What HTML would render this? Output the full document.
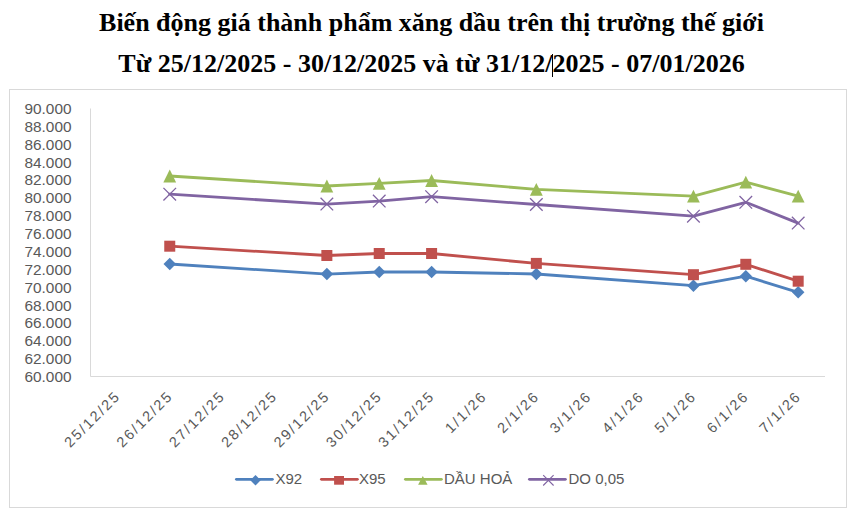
<!DOCTYPE html>
<html><head><meta charset="utf-8"><style>
html,body{margin:0;padding:0;background:#fff;width:854px;height:509px;overflow:hidden}
.t{position:absolute;left:0;width:863px;text-align:center;font-family:"Liberation Serif",serif;font-weight:bold;font-size:26px;color:#000;white-space:nowrap;line-height:30px}
svg{position:absolute;left:0;top:0}
.yl{font-family:"Liberation Sans",sans-serif;font-size:15.4px;fill:#595959}
.xl{font-family:"Liberation Sans",sans-serif;font-size:14.5px;fill:#595959;letter-spacing:2px}
.lg{font-family:"Liberation Sans",sans-serif;font-size:15px;fill:#595959}
.cur{position:absolute;left:552px;top:54px;width:1px;height:23px;background:#000}
</style></head><body>
<svg width="854" height="509" viewBox="0 0 854 509">
<rect x="9.5" y="89.5" width="837" height="418" fill="#fff" stroke="#d9d9d9" stroke-width="1"/>
<line x1="90.5" y1="108.5" x2="90.5" y2="376.5" stroke="#d9d9d9" stroke-width="1"/>
<line x1="90.5" y1="376.5" x2="825.0" y2="376.5" stroke="#d9d9d9" stroke-width="1"/>
<text x="71.5" y="382.00" text-anchor="end" class="yl">60.000</text>
<text x="71.5" y="364.13" text-anchor="end" class="yl">62.000</text>
<text x="71.5" y="346.27" text-anchor="end" class="yl">64.000</text>
<text x="71.5" y="328.40" text-anchor="end" class="yl">66.000</text>
<text x="71.5" y="310.53" text-anchor="end" class="yl">68.000</text>
<text x="71.5" y="292.67" text-anchor="end" class="yl">70.000</text>
<text x="71.5" y="274.80" text-anchor="end" class="yl">72.000</text>
<text x="71.5" y="256.93" text-anchor="end" class="yl">74.000</text>
<text x="71.5" y="239.07" text-anchor="end" class="yl">76.000</text>
<text x="71.5" y="221.20" text-anchor="end" class="yl">78.000</text>
<text x="71.5" y="203.33" text-anchor="end" class="yl">80.000</text>
<text x="71.5" y="185.47" text-anchor="end" class="yl">82.000</text>
<text x="71.5" y="167.60" text-anchor="end" class="yl">84.000</text>
<text x="71.5" y="149.73" text-anchor="end" class="yl">86.000</text>
<text x="71.5" y="131.87" text-anchor="end" class="yl">88.000</text>
<text x="71.5" y="114.00" text-anchor="end" class="yl">90.000</text>
<text transform="translate(121.38,397) rotate(-45)" text-anchor="end" class="xl">25/12/25</text>
<text transform="translate(173.75,397) rotate(-45)" text-anchor="end" class="xl">26/12/25</text>
<text transform="translate(226.12,397) rotate(-45)" text-anchor="end" class="xl">27/12/25</text>
<text transform="translate(278.49,397) rotate(-45)" text-anchor="end" class="xl">28/12/25</text>
<text transform="translate(330.86,397) rotate(-45)" text-anchor="end" class="xl">29/12/25</text>
<text transform="translate(383.23,397) rotate(-45)" text-anchor="end" class="xl">30/12/25</text>
<text transform="translate(435.60,397) rotate(-45)" text-anchor="end" class="xl">31/12/25</text>
<text transform="translate(487.97,397) rotate(-45)" text-anchor="end" class="xl">1/1/26</text>
<text transform="translate(540.34,397) rotate(-45)" text-anchor="end" class="xl">2/1/26</text>
<text transform="translate(592.71,397) rotate(-45)" text-anchor="end" class="xl">3/1/26</text>
<text transform="translate(645.07,397) rotate(-45)" text-anchor="end" class="xl">4/1/26</text>
<text transform="translate(697.44,397) rotate(-45)" text-anchor="end" class="xl">5/1/26</text>
<text transform="translate(749.81,397) rotate(-45)" text-anchor="end" class="xl">6/1/26</text>
<text transform="translate(802.18,397) rotate(-45)" text-anchor="end" class="xl">7/1/26</text>
<polyline points="169.75,264 326.86,274.1 379.23,272 431.60,272 536.34,274 693.44,285.7 745.81,276.2 798.18,292.3" fill="none" stroke="#4F81BD" stroke-width="2.8" stroke-linejoin="round" stroke-linecap="round"/>
<path d="M169.75 257.75L176.00 264.00L169.75 270.25L163.50 264.00Z" fill="#4F81BD"/>
<path d="M326.86 267.85L333.11 274.10L326.86 280.35L320.61 274.10Z" fill="#4F81BD"/>
<path d="M379.23 265.75L385.48 272.00L379.23 278.25L372.98 272.00Z" fill="#4F81BD"/>
<path d="M431.60 265.75L437.85 272.00L431.60 278.25L425.35 272.00Z" fill="#4F81BD"/>
<path d="M536.34 267.75L542.59 274.00L536.34 280.25L530.09 274.00Z" fill="#4F81BD"/>
<path d="M693.44 279.45L699.69 285.70L693.44 291.95L687.19 285.70Z" fill="#4F81BD"/>
<path d="M745.81 269.95L752.06 276.20L745.81 282.45L739.56 276.20Z" fill="#4F81BD"/>
<path d="M798.18 286.05L804.43 292.30L798.18 298.55L791.93 292.30Z" fill="#4F81BD"/>
<polyline points="169.75,246.2 326.86,255.5 379.23,253.5 431.60,253.5 536.34,263.4 693.44,274.7 745.81,264.3 798.18,281.2" fill="none" stroke="#C0504D" stroke-width="2.8" stroke-linejoin="round" stroke-linecap="round"/>
<rect x="164.25" y="240.70" width="11" height="11" fill="#C0504D"/>
<rect x="321.36" y="250.00" width="11" height="11" fill="#C0504D"/>
<rect x="373.73" y="248.00" width="11" height="11" fill="#C0504D"/>
<rect x="426.10" y="248.00" width="11" height="11" fill="#C0504D"/>
<rect x="530.84" y="257.90" width="11" height="11" fill="#C0504D"/>
<rect x="687.94" y="269.20" width="11" height="11" fill="#C0504D"/>
<rect x="740.31" y="258.80" width="11" height="11" fill="#C0504D"/>
<rect x="792.68" y="275.70" width="11" height="11" fill="#C0504D"/>
<polyline points="169.75,176 326.86,186 379.23,183.3 431.60,180.5 536.34,189.4 693.44,196.1 745.81,182.1 798.18,196.1" fill="none" stroke="#9BBB59" stroke-width="2.8" stroke-linejoin="round" stroke-linecap="round"/>
<path d="M169.75 169.60L176.15 182.40L163.35 182.40Z" fill="#9BBB59"/>
<path d="M326.86 179.60L333.26 192.40L320.46 192.40Z" fill="#9BBB59"/>
<path d="M379.23 176.90L385.63 189.70L372.83 189.70Z" fill="#9BBB59"/>
<path d="M431.60 174.10L438.00 186.90L425.20 186.90Z" fill="#9BBB59"/>
<path d="M536.34 183.00L542.74 195.80L529.94 195.80Z" fill="#9BBB59"/>
<path d="M693.44 189.70L699.84 202.50L687.04 202.50Z" fill="#9BBB59"/>
<path d="M745.81 175.70L752.21 188.50L739.41 188.50Z" fill="#9BBB59"/>
<path d="M798.18 189.70L804.58 202.50L791.78 202.50Z" fill="#9BBB59"/>
<polyline points="169.75,194.2 326.86,204.1 379.23,201.1 431.60,196.7 536.34,204.5 693.44,216.2 745.81,202.3 798.18,223.1" fill="none" stroke="#8064A2" stroke-width="2.8" stroke-linejoin="round" stroke-linecap="round"/>
<path d="M163.45 187.90L176.05 200.50M176.05 187.90L163.45 200.50" stroke="#8064A2" stroke-width="1.3" fill="none"/>
<path d="M320.56 197.80L333.16 210.40M333.16 197.80L320.56 210.40" stroke="#8064A2" stroke-width="1.3" fill="none"/>
<path d="M372.93 194.80L385.53 207.40M385.53 194.80L372.93 207.40" stroke="#8064A2" stroke-width="1.3" fill="none"/>
<path d="M425.30 190.40L437.90 203.00M437.90 190.40L425.30 203.00" stroke="#8064A2" stroke-width="1.3" fill="none"/>
<path d="M530.04 198.20L542.64 210.80M542.64 198.20L530.04 210.80" stroke="#8064A2" stroke-width="1.3" fill="none"/>
<path d="M687.14 209.90L699.74 222.50M699.74 209.90L687.14 222.50" stroke="#8064A2" stroke-width="1.3" fill="none"/>
<path d="M739.51 196.00L752.11 208.60M752.11 196.00L739.51 208.60" stroke="#8064A2" stroke-width="1.3" fill="none"/>
<path d="M791.88 216.80L804.48 229.40M804.48 216.80L791.88 229.40" stroke="#8064A2" stroke-width="1.3" fill="none"/>
<line x1="236.4" y1="479.3" x2="272.4" y2="479.3" stroke="#4F81BD" stroke-width="2.8" stroke-linecap="round"/><path d="M255.50 475.10L260.70 480.30L255.50 485.50L250.30 480.30Z" fill="#4F81BD"/><text x="275.5" y="484.3" class="lg">X92</text>
<line x1="321.4" y1="479.3" x2="357.4" y2="479.3" stroke="#C0504D" stroke-width="2.8" stroke-linecap="round"/><rect x="334.1" y="476.0" width="9.9" height="8.7" fill="#C0504D"/><text x="359" y="484.3" class="lg">X95</text>
<line x1="405.4" y1="479.3" x2="441.4" y2="479.3" stroke="#9BBB59" stroke-width="2.8" stroke-linecap="round"/><path d="M422.8 476L427.6 484.7L418.1 484.7Z" fill="#9BBB59"/><text x="444" y="484.3" class="lg">DẦU HOẢ</text>
<line x1="529.4" y1="479.3" x2="565.4" y2="479.3" stroke="#8064A2" stroke-width="2.8" stroke-linecap="round"/><path d="M543.20 475.10L553.60 485.50M553.60 475.10L543.20 485.50" stroke="#8064A2" stroke-width="1.1" fill="none"/><text x="568.5" y="484.3" class="lg">DO 0,05</text>
</svg>
<div class="t" style="top:8px">Biến động giá thành phẩm xăng dầu trên thị trường thế giới</div>
<div class="t" style="top:49px">Từ 25/12/2025 - 30/12/2025 và từ 31/12/2025 - 07/01/2026</div>
<div class="cur"></div>
</body></html>
